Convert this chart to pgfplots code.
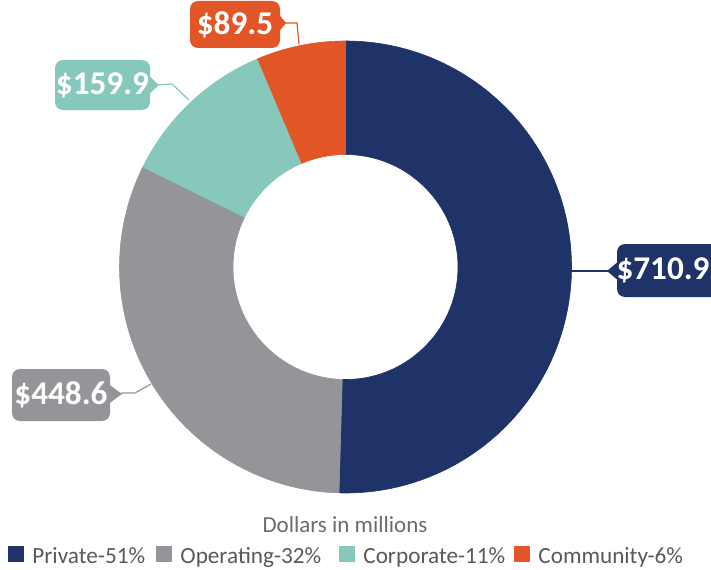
\documentclass[border=0pt]{standalone}
\usepackage{pgfplots}
\usepackage{pgfplotstable}
\pgfplotsset{compat=1.18}
\usepackage{fontspec}
\setmainfont{Carlito}

\definecolor{privcol}{HTML}{1F3369}
\definecolor{opcol}{HTML}{939598}
\definecolor{corpcol}{HTML}{86C8BB}
\definecolor{commcol}{HTML}{E25526}
\definecolor{legtext}{HTML}{595959}
\definecolor{titletext}{HTML}{6B6B6B}

% funding by source, dollars in millions
\pgfplotstableread{
label      value  share  colour
Private    710.9  51     privcol
Operating  448.6  32     opcol
Corporate  159.9  11     corpcol
Community  89.5   6      commcol
}\funds

\tikzset{calloutfont/.style={text=white, font=\fontsize{16.6}{18}\selectfont\bfseries, inner sep=0pt}}
% callout box: colour, left, bottom, right, top, pointer base x, tip x, tip y, text
\newcommand\callout[9]{%
  \fill[#1, rounded corners=4pt] (axis cs:#2,#3) rectangle (axis cs:#4,#5);
  \fill[#1] (axis cs:#6,{#8-11}) -- (axis cs:#7,#8) -- (axis cs:#6,{#8+11}) -- cycle;
  \node[calloutfont] at (axis cs:{(#2+#4)/2},{(#3+#5)/2}) {#9};
}
% legend entry: colour, square left x, text
\newcommand\legentry[3]{%
  \fill[#1] (axis cs:#2,7) rectangle (axis cs:{#2+16},23);
  \node[anchor=base west, inner sep=0pt, text=legtext, font=\fontsize{11.6}{14}\selectfont]
    at (axis cs:{#2+24},6) {#3};
}

\begin{document}
\begin{tikzpicture}
\begin{axis}[
    x=0.5pt, y=0.5pt,
    xmin=0, xmax=711, ymin=0, ymax=569,
    scale only axis,
    hide axis,
    clip=false,
]
% donut slices, clockwise from 12 o'clock
\pgfplotsextra{
  \def\cx{345.5}\def\cy{302}\def\Ro{226}\def\Ri{112.5}
  \gdef\total{0}
  \foreach \i in {0,...,3}{
    \pgfplotstablegetelem{\i}{value}\of\funds
    \pgfmathparse{\total+\pgfplotsretval}\xdef\total{\pgfmathresult}
  }
  \gdef\astart{90}
  \foreach \i in {0,...,3}{
    \pgfplotstablegetelem{\i}{value}\of\funds \let\sliceval\pgfplotsretval
    \pgfplotstablegetelem{\i}{colour}\of\funds \let\slicecol\pgfplotsretval
    \pgfmathsetmacro\aend{\astart-360*(\sliceval/\total)}
    \filldraw[fill=\slicecol, draw=\slicecol, line width=0.3pt]
      (axis cs:{\cx+\Ro*cos(\astart)},{\cy+\Ro*sin(\astart)})
      arc[start angle=\astart, end angle=\aend, radius=\Ro*0.5pt]
      -- (axis cs:{\cx+\Ri*cos(\aend)},{\cy+\Ri*sin(\aend)})
      arc[start angle=\aend, end angle=\astart, radius=\Ri*0.5pt] -- cycle;
    \xdef\astart{\aend}
  }
}

% leader lines
\draw[privcol, line width=0.6pt] (axis cs:571,298) -- (axis cs:608,298);
\draw[opcol, line width=0.6pt] (axis cs:121,176) -- (axis cs:135,176) -- (axis cs:151,185);
\draw[corpcol, line width=0.6pt] (axis cs:157,484) -- (axis cs:172,485) -- (axis cs:189,469);
\draw[commcol, line width=0.6pt] (axis cs:284,546) -- (axis cs:297,546) -- (axis cs:299,525);

% value callouts
\callout{privcol}{617}{272}{722}{325}{620}{607}{298}{}
\node[calloutfont] at (axis cs:663,298.5) {\$710.9};
\callout{opcol}{12}{148}{110}{200}{107}{122}{175}{\$448.6}
\callout{corpcol}{55}{459}{150}{509}{147}{159}{484}{\$159.9}
\callout{commcol}{190}{521}{280}{568}{277}{286}{546}{\$89.5}

% title under the chart
\node[anchor=base, inner sep=0pt, text=titletext, font=\fontsize{11.5}{13}\selectfont]
  at (axis cs:345,37) {Dollars in millions};

% legend
\legentry{privcol}{8}{Private-51\%}
\legentry{opcol}{156}{Operating-32\%}
\legentry{corpcol}{339}{Corporate-11\%}
\legentry{commcol}{514}{Community-6\%}
\end{axis}
\pgfresetboundingbox
\path (0,0) rectangle (355.5pt,284.5pt);
\end{tikzpicture}
\end{document}
